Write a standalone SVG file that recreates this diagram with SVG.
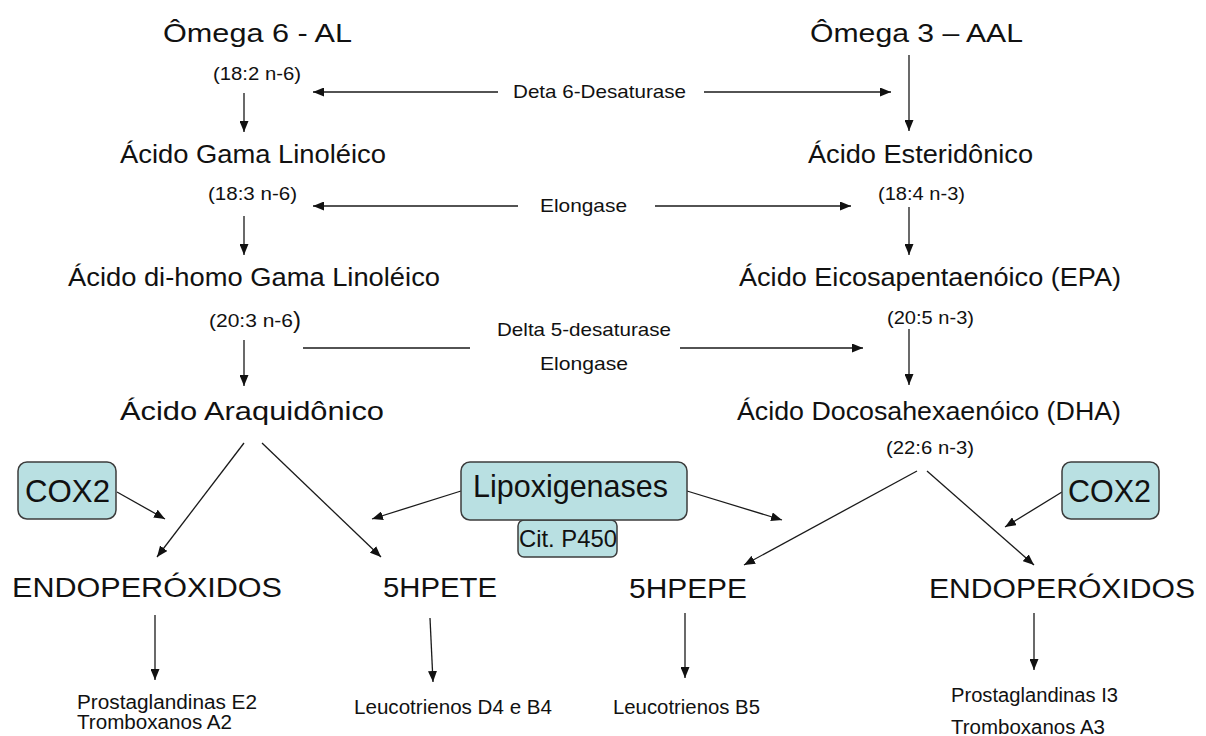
<svg xmlns="http://www.w3.org/2000/svg" width="1206" height="736" viewBox="0 0 1206 736">
<style>
text{font-family:"Liberation Sans",Arial,sans-serif;fill:#111}
.t{font-size:26px}
.b{font-size:25px}
.s{font-size:18px}
.e{font-size:18.5px}
.p{font-size:27px}
.f{font-size:20px}
.box{fill:#b9e0e2;stroke:#3c3c3c;stroke-width:1.5}
.c line{stroke:#1a1a1a;stroke-width:1.3;fill:none}
.a{marker-end:url(#ah)}
</style>
<defs>
<marker id="ah" markerUnits="userSpaceOnUse" markerWidth="11" markerHeight="9" refX="11" refY="4.5" orient="auto">
<path d="M0,0 L11,4.5 L0,9 z" fill="#111"/>
</marker>
</defs>
<rect width="1206" height="736" fill="#fff"/>
<g id="connectors" class="c">
<line class="a" x1="498" y1="92" x2="313" y2="92"/>
<line class="a" x1="704" y1="92" x2="891" y2="92"/>
<line class="a" x1="244" y1="93" x2="244" y2="132"/>
<line class="a" x1="909" y1="55" x2="909" y2="131"/>
<line class="a" x1="518" y1="206" x2="313" y2="206"/>
<line class="a" x1="655" y1="206" x2="851" y2="206"/>
<line class="a" x1="244" y1="216" x2="244" y2="255"/>
<line class="a" x1="909" y1="207" x2="909" y2="255"/>
<line x1="303" y1="348" x2="470" y2="348"/>
<line class="a" x1="680" y1="348" x2="863" y2="348"/>
<line class="a" x1="244" y1="340" x2="244" y2="386"/>
<line class="a" x1="909" y1="329" x2="909" y2="385"/>
<line class="a" x1="244" y1="443" x2="157" y2="557"/>
<line class="a" x1="262" y1="443" x2="381" y2="557"/>
<line class="a" x1="117" y1="492" x2="165" y2="519"/>
<line class="a" x1="461" y1="491" x2="372" y2="519"/>
<line class="a" x1="687" y1="491" x2="782" y2="520"/>
<line class="a" x1="917" y1="471" x2="744" y2="565"/>
<line class="a" x1="927" y1="471" x2="1034" y2="565"/>
<line class="a" x1="1062" y1="492" x2="1005" y2="527"/>
<line class="a" x1="155" y1="615" x2="155" y2="680"/>
<line class="a" x1="430" y1="618" x2="433" y2="682"/>
<line class="a" x1="685" y1="613" x2="685" y2="678"/>
<line class="a" x1="1034" y1="613" x2="1034" y2="670"/>
</g>
<g id="omega6"><text class="t" x="163" y="42" textLength="189" lengthAdjust="spacingAndGlyphs">Ômega 6 - AL</text>
<text class="s" x="213" y="80" textLength="88" lengthAdjust="spacingAndGlyphs">(18:2 n-6)</text></g>
<g id="omega3"><text class="t" x="810" y="42" textLength="213" lengthAdjust="spacingAndGlyphs">Ômega 3 – AAL</text></g>
<g id="enz1"><text class="e" x="513" y="98" textLength="173" lengthAdjust="spacingAndGlyphs">Deta 6-Desaturase</text></g>
<g id="gla"><text class="b" x="120" y="163" textLength="266" lengthAdjust="spacingAndGlyphs">Ácido Gama Linoléico</text>
<text class="s" x="208" y="200" textLength="89" lengthAdjust="spacingAndGlyphs">(18:3 n-6)</text></g>
<g id="sda"><text class="b" x="808" y="163" textLength="225" lengthAdjust="spacingAndGlyphs">Ácido Esteridônico</text>
<text class="s" x="878" y="200" textLength="87" lengthAdjust="spacingAndGlyphs">(18:4 n-3)</text></g>
<g id="enz2"><text class="e" x="540" y="212" textLength="87" lengthAdjust="spacingAndGlyphs">Elongase</text></g>
<g id="dgla"><text class="b" x="68" y="286" textLength="372" lengthAdjust="spacingAndGlyphs">Ácido di-homo Gama Linoléico</text>
<text class="s" x="209" y="327" textLength="84" lengthAdjust="spacingAndGlyphs">(20:3 n-6</text><text x="293" y="328" style="font-size:24px">)</text></g>
<g id="epa"><text class="b" x="739" y="286" textLength="382" lengthAdjust="spacingAndGlyphs">Ácido Eicosapentaenóico (EPA)</text>
<text class="s" x="887" y="324" textLength="87" lengthAdjust="spacingAndGlyphs">(20:5 n-3)</text></g>
<g id="enz3"><text class="e" x="497" y="336" textLength="174" lengthAdjust="spacingAndGlyphs">Delta 5-desaturase</text>
<text class="e" x="540" y="370" textLength="88" lengthAdjust="spacingAndGlyphs">Elongase</text></g>
<g id="aa"><text class="b" x="120" y="420" textLength="264" lengthAdjust="spacingAndGlyphs">Ácido Araquidônico</text></g>
<g id="dha"><text class="b" x="737" y="420" textLength="384" lengthAdjust="spacingAndGlyphs">Ácido Docosahexaenóico (DHA)</text>
<text class="s" x="886" y="454" textLength="88" lengthAdjust="spacingAndGlyphs">(22:6 n-3)</text></g>
<g id="cox2-left"><rect class="box" x="18" y="462" width="98" height="57" rx="9"/>
<text x="25" y="502" style="font-size:31px" textLength="85" lengthAdjust="spacingAndGlyphs">COX2</text></g>
<g id="cit-p450"><rect class="box" x="518" y="520" width="99" height="37" rx="6"/>
<text x="519" y="547" style="font-size:24px" textLength="98" lengthAdjust="spacingAndGlyphs">Cit. P450</text></g>
<g id="lipox"><rect class="box" x="461" y="462" width="226" height="58" rx="9"/>
<text x="473" y="497" style="font-size:32px" textLength="195" lengthAdjust="spacingAndGlyphs">Lipoxigenases</text></g>
<g id="cox2-right"><rect class="box" x="1062" y="462" width="97" height="57" rx="9"/>
<text x="1068" y="502" style="font-size:31px" textLength="83" lengthAdjust="spacingAndGlyphs">COX2</text></g>
<g id="endo-left"><text class="p" x="12" y="597" textLength="270" lengthAdjust="spacingAndGlyphs">ENDOPERÓXIDOS</text></g>
<g id="hpete"><text class="p" x="383" y="597" textLength="114" lengthAdjust="spacingAndGlyphs">5HPETE</text></g>
<g id="hpepe"><text class="p" x="629" y="598" textLength="118" lengthAdjust="spacingAndGlyphs">5HPEPE</text></g>
<g id="endo-right"><text class="p" x="929" y="598" textLength="266" lengthAdjust="spacingAndGlyphs">ENDOPERÓXIDOS</text></g>
<g id="prod-aa-cox"><text class="f" x="77" y="709" textLength="180" lengthAdjust="spacingAndGlyphs">Prostaglandinas E2</text>
<text class="f" x="77" y="729" textLength="155" lengthAdjust="spacingAndGlyphs">Tromboxanos A2</text></g>
<g id="prod-aa-lox"><text class="f" x="354" y="714" textLength="198" lengthAdjust="spacingAndGlyphs">Leucotrienos D4 e B4</text></g>
<g id="prod-epa-lox"><text class="f" x="613" y="714" textLength="147" lengthAdjust="spacingAndGlyphs">Leucotrienos B5</text></g>
<g id="prod-dha-cox"><text class="f" x="951" y="702" textLength="167" lengthAdjust="spacingAndGlyphs">Prostaglandinas I3</text>
<text class="f" x="951" y="734" textLength="154" lengthAdjust="spacingAndGlyphs">Tromboxanos A3</text></g>
</svg>
